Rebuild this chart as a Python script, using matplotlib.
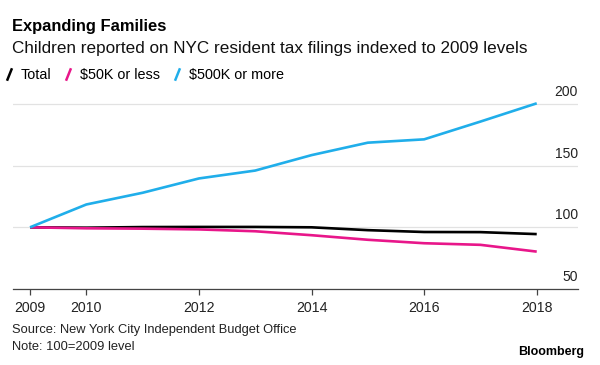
import matplotlib
matplotlib.use("Agg")
import matplotlib.pyplot as plt
from matplotlib.lines import Line2D

plt.rcParams['font.family'] = ['Liberation Sans', 'DejaVu Sans']

years = [2009, 2010, 2011, 2012, 2013, 2014, 2015, 2016, 2017, 2018]
total = [100, 99.7, 100.2, 100.3, 100.3, 100.0, 97.7, 96.2, 96.1, 94.5]
low_income = [100, 99.2, 98.9, 98.3, 96.8, 93.6, 89.9, 87.1, 85.8, 80.3]
high_income = [100, 118.5, 128.0, 139.6, 146.0, 158.5, 168.6, 171.3, 185.7, 200.5]

series_names = ['Total', '$50K or less', '$500K or more']
series_colors = ['#000000', '#e8168a', '#20aeea']
xticks = [2009, 2010, 2012, 2014, 2016, 2018]
yticks = [50, 100, 150, 200]

fig = plt.figure(figsize=(6, 3.65), dpi=100)
ax = fig.add_axes([13 / 600, 1 - 289 / 365, 565 / 600, (289 - 91.6) / 365])

for vals, col in zip([total, low_income, high_income], series_colors):
    ax.plot(years, vals, color=col, lw=1.9, solid_capstyle='butt', zorder=3)

ax.set_xlim(2008.698, 2018.733)
ax.set_ylim(50, 210)

for s in ['top', 'right', 'left']:
    ax.spines[s].set_visible(False)
ax.spines['bottom'].set_color('#444444')
ax.spines['bottom'].set_linewidth(0.9)

ax.set_yticks(yticks)
ax.set_yticklabels([])
ax.tick_params(axis='y', length=0)
ax.grid(axis='y', color='#e2e2e2', lw=0.9, zorder=0)
ax.set_axisbelow(True)
for v in yticks:
    ax.annotate(str(v), xy=(1.0, v), xycoords=('axes fraction', 'data'),
                xytext=(0, 3.5), textcoords='offset points',
                ha='right', va='bottom', fontsize=10, color='#222222')

ax.set_xticks(xticks)
ax.set_xticklabels([str(x) for x in xticks], fontsize=10.2, color='#222222')
ax.tick_params(axis='x', length=4, width=0.9, color='#444444', pad=5)

# titles
fig.text(12 / 600, 1 - 27 / 365, 'Expanding Families', fontsize=11.9,
         fontweight='bold', va='center', ha='left')
fig.text(12 / 600, 1 - 48 / 365, 'Children reported on NYC resident tax filings indexed to 2009 levels',
         fontsize=12.3, va='center', ha='left', color='#111111')

# legend
handles = [Line2D([], [], color=c, marker=[(-0.4, -1), (0.4, 1)], markersize=9,
                  markeredgewidth=1.8, linestyle='none') for c in series_colors]
fig.legend(handles, series_names, loc='center left', bbox_to_anchor=(0.0, 1 - 75 / 365),
           ncol=3, frameon=False, fontsize=10.4, handlelength=0.8, handletextpad=0.45,
           columnspacing=0.75, borderaxespad=0, borderpad=0.2)

fig.text(12 / 600, 1 - 330 / 365, 'Source: New York City Independent Budget Office',
         fontsize=9.3, va='center', ha='left', color='#222222')
fig.text(12 / 600, 1 - 347 / 365, 'Note: 100=2009 level',
         fontsize=9.3, va='center', ha='left', color='#222222')
fig.text(584 / 600, 1 - 352 / 365, 'Bloomberg', fontsize=9, fontweight='bold',
         va='center', ha='right')

fig.savefig('out.png', dpi=100)
